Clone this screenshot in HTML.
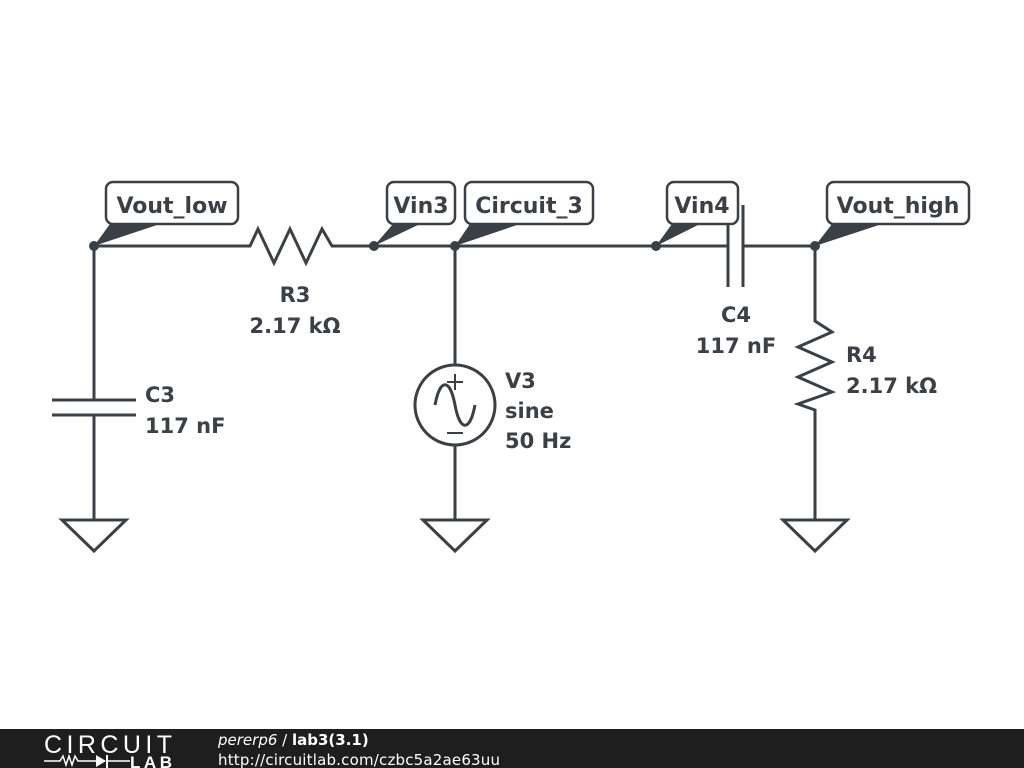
<!DOCTYPE html>
<html><head><meta charset="utf-8"><style>
html,body{margin:0;padding:0;background:#fff;width:1024px;height:768px;overflow:hidden}
svg{display:block}
text{font-family:"DejaVu Sans","Liberation Sans",sans-serif;fill:#3a4045;font-weight:bold}
</style></head><body>
<svg width="1024" height="768" viewBox="0 0 1024 768">
<g stroke="#3a4045" stroke-width="3" fill="none" stroke-linejoin="miter">
<polyline points="94,246 250,246 258,229 274,263 290,229 306,263 322,229 332,246 340,246 728,246"/>
<line x1="743" y1="246" x2="815" y2="246"/>
<line x1="728" y1="205" x2="728" y2="287"/>
<line x1="743" y1="205" x2="743" y2="287"/>
<line x1="94" y1="246" x2="94" y2="400"/>
<line x1="52" y1="400" x2="136" y2="400"/>
<line x1="52" y1="415" x2="136" y2="415"/>
<line x1="94" y1="415" x2="94" y2="520"/>
<polygon points="62,520 126,520 94,551" fill="#fff"/>
<line x1="455" y1="246" x2="455" y2="365"/>
<circle cx="455" cy="405" r="40"/>
<path d="M435,405 C440,378 450,378 455,405 C460,432 470,432 475,405"/>
<line x1="455" y1="445" x2="455" y2="520"/>
<polygon points="423,520 487,520 455,551" fill="#fff"/>
<line x1="447" y1="382" x2="463" y2="382" stroke-width="2"/>
<line x1="455" y1="374" x2="455" y2="390" stroke-width="2"/>
<line x1="447" y1="433" x2="463" y2="433" stroke-width="2"/>
<polyline points="815,246 815,321 832,332 798,347 832,362 798,377 832,392 798,404 815,410 815,520"/>
<polygon points="783,520 847,520 815,551" fill="#fff"/>
</g>
<g fill="#3a4045">
<circle cx="94" cy="246" r="5"/><circle cx="374" cy="246" r="5"/><circle cx="455" cy="246" r="5"/><circle cx="656" cy="246" r="5"/><circle cx="815" cy="246" r="5"/>
<polygon points="94,246 110,224 160,224"/>
<polygon points="374,246 393,224 420,224"/>
<polygon points="455,246 470,224 520,224"/>
<polygon points="656,246 672,224 700,224"/>
<polygon points="815,246 832,224 882,224"/>
</g>
<g stroke="#3a4045" stroke-width="2.5" fill="#fff">
<rect x="106" y="182" width="132" height="42" rx="7"/>
<rect x="387" y="182" width="68" height="42" rx="7"/>
<rect x="465" y="182" width="128" height="42" rx="7"/>
<rect x="667" y="182" width="71" height="42" rx="7"/>
<rect x="827" y="182" width="142" height="42" rx="7"/>
</g>
<g font-size="22">
<text x="172" y="213" text-anchor="middle">Vout_low</text>
<text x="421" y="213" text-anchor="middle">Vin3</text>
<text x="529" y="213" text-anchor="middle">Circuit_3</text>
<text x="702" y="213" text-anchor="middle">Vin4</text>
<text x="898" y="213" text-anchor="middle">Vout_high</text>
</g>
<g font-size="21">
<text x="295" y="302" text-anchor="middle">R3</text>
<text x="295" y="333" text-anchor="middle">2.17 kΩ</text>
<text x="145" y="402">C3</text>
<text x="145" y="433">117 nF</text>
<text x="505" y="388">V3</text>
<text x="505" y="418">sine</text>
<text x="505" y="448">50 Hz</text>
<text x="736" y="322" text-anchor="middle">C4</text>
<text x="736" y="353" text-anchor="middle">117 nF</text>
<text x="846" y="362">R4</text>
<text x="846" y="393">2.17 kΩ</text>
</g>
<rect x="0" y="729" width="1024" height="39" fill="#1e1e1e"/>
<text x="44" y="753" font-size="25" textLength="128" style="fill:#fff;font-weight:normal;font-family:'Liberation Sans',sans-serif">CIRCUIT</text>
<polyline points="44,761 60,761 63,756 66,765 69,756 72,765 75,756 78,761 96,761" stroke="#fff" stroke-width="1.5" fill="none"/>
<polygon points="96,755 96,767 106,761" fill="#fff"/>
<line x1="107" y1="755" x2="107" y2="768" stroke="#fff" stroke-width="2"/>
<line x1="107" y1="761" x2="130" y2="761" stroke="#fff" stroke-width="1.5"/>
<text x="130" y="768" font-size="17" textLength="42" style="fill:#fff;font-family:'Liberation Sans',sans-serif">LAB</text>
<text x="218" y="745" font-size="15" style="fill:#fff;font-weight:normal"><tspan font-style="italic">pererp6</tspan> / <tspan font-weight="bold">lab3(3.1)</tspan></text>
<text x="218" y="765" font-size="15" textLength="282" style="fill:#fff;font-weight:normal">http://circuitlab.com/czbc5a2ae63uu</text>
</svg>
</body></html>
